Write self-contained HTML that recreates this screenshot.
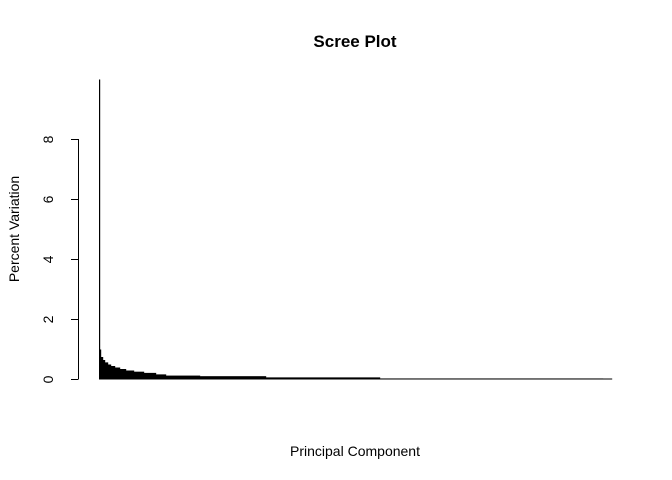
<!DOCTYPE html>
<html><head><meta charset="utf-8"><style>
body{margin:0;background:#fff}
svg{display:block;font-family:"Liberation Sans",Arial,sans-serif}
</style></head><body>
<svg id="chart" width="672" height="480" viewBox="0 0 672 480">
<rect width="672" height="480" fill="#fff"/>
<text x="355" y="47" text-anchor="middle" font-size="17" font-weight="bold">Scree Plot</text>
<text x="355" y="456" text-anchor="middle" font-size="14">Principal Component</text>
<text transform="translate(19,229) rotate(-90)" text-anchor="middle" font-size="14">Percent Variation</text>
<g id="bars"></g>
<g id="yaxis"></g>
</svg>
<script>
const yTicks=[0,2,4,6,8];
const tickLabels=["0","2","4","6","8"];
// percent variation per component, given as runs of equal values
const runValues=[10.0,1.0,0.75,0.65,0.57,0.50,0.45,0.40,0.35,0.30,0.26,0.22,0.17,0.13,0.11,0.07,0.035,0.005];
const runCounts=[1,1,2,2,3,3,4,5,6,8,10,12,10,34,66,114,223,9];
const variation=[];
runValues.forEach((v,i)=>{for(let k=0;k<runCounts[i];k++)variation.push(v);});
const NS="http://www.w3.org/2000/svg";
const x0=99,x1=612,y0=379,pxPerUnit=30;
const bw=(x1-x0)/variation.length;
const xScale=i=>x0+i*bw;
const yScale=v=>y0-v*pxPerUnit;
const bars=document.getElementById('bars');
variation.forEach((v,i)=>{
  const r=document.createElementNS(NS,'rect');
  
  
  const h=Math.max(1,y0-yScale(v));
  r.setAttribute('x',xScale(i));r.setAttribute('y',y0-h+0.5);
  r.setAttribute('width',bw+0.2);r.setAttribute('height',h);
  r.setAttribute('fill','#000');
  bars.appendChild(r);
});
const ax=document.getElementById('yaxis');
const ln=document.createElementNS(NS,'line');


ln.setAttribute('x1',78.5);ln.setAttribute('x2',78.5);
ln.setAttribute('y1',yScale(yTicks[0]));ln.setAttribute('y2',yScale(yTicks[yTicks.length-1]));
ln.setAttribute('stroke','#000');
ax.appendChild(ln);
yTicks.forEach((t,i)=>{
  const tk=document.createElementNS(NS,'line');
  
  
  const y=Math.round(yScale(t))+0.5;
  tk.setAttribute('x1',71);tk.setAttribute('x2',78.5);tk.setAttribute('y1',y);tk.setAttribute('y2',y);
  tk.setAttribute('stroke','#000');
  ax.appendChild(tk);
  const tx=document.createElementNS(NS,'text');
  
  
  tx.setAttribute('transform','translate(53,'+y+') rotate(-90)');
  tx.setAttribute('text-anchor','middle');tx.setAttribute('font-size','14');
  tx.textContent=tickLabels[i];
  ax.appendChild(tx);
});
</script>
</body></html>
